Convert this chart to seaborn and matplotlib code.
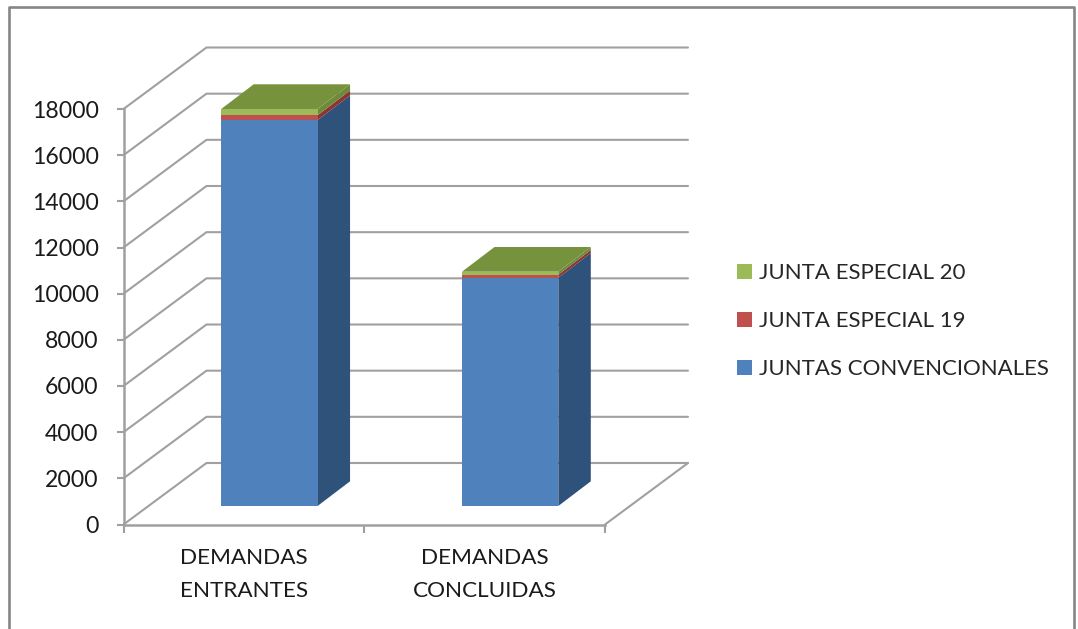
import matplotlib
matplotlib.use("Agg")
import matplotlib.pyplot as plt
from matplotlib.lines import Line2D
import pandas as pd
import seaborn as sns

categories = ["DEMANDAS\nENTRANTES", "DEMANDAS\nCONCLUIDAS"]
convencionales = [16720, 9890]
especial_19 = [205, 130]
especial_20 = [275, 130]
y_ticks = list(range(0, 18001, 2000))
series_names = ["JUNTAS CONVENCIONALES", "JUNTA ESPECIAL 19", "JUNTA ESPECIAL 20"]
front_colors = ["#4F81BD", "#C0504D", "#9BBB59"]
side_colors = ["#2F527B", "#8B3432", "#6F8A3B"]
top_color = "#76923C"
grid_color = "#A0A0A0"
W, H = 1078, 629

sns.set_theme(style="white")
plt.rcParams["font.family"] = ["Lato", "DejaVu Sans"]
FS_Y = 16.6
FS_X = 16.2
FS_LEG = 16

fig = plt.figure(figsize=(W / 100, H / 100), dpi=100, facecolor="white")
ax = fig.add_axes([123.5 / W, (H - 524.5) / H, 481.5 / W, 415.5 / H])

# 3-D projection offsets, in data units
WALL_DX, WALL_DY = 0.3447, 2664
BAR_SHIFT_X, BAR_SHIFT_Y = 0.106, 801
BAR_DX, BAR_DY = 0.135, 1070
BAR_W = 0.4

# back wall + diagonal gridlines
for v in y_ticks:
    ax.plot([-0.5, -0.5 + WALL_DX, 1.5 + WALL_DX], [v, v + WALL_DY, v + WALL_DY],
            color=grid_color, lw=1.5, clip_on=False, zorder=1, solid_joinstyle="miter")
ax.plot([1.5, 1.5 + WALL_DX], [0, WALL_DY], color=grid_color, lw=1.5, clip_on=False, zorder=1)

xs = [i + BAR_SHIFT_X for i in range(len(categories))]
bottoms = [BAR_SHIFT_Y] * len(categories)
for name, vals, fc, sc in zip(series_names, [convencionales, especial_19, especial_20],
                              front_colors, side_colors):
    df = pd.DataFrame({"x": xs, "y": vals})
    sns.barplot(data=df, x="x", y="y", native_scale=True, width=BAR_W, color=fc, saturation=1,
                bottom=bottoms, label=name, ax=ax, zorder=3, linewidth=0, errorbar=None)
    for x, b, v in zip(xs, bottoms, vals):
        r = x + BAR_W / 2
        ax.fill([r, r + BAR_DX, r + BAR_DX, r],
                [b, b + BAR_DY, b + v + BAR_DY, b + v],
                color=sc, lw=0, clip_on=False, zorder=2.5)
    bottoms = [b + v for b, v in zip(bottoms, vals)]

for x, t in zip(xs, bottoms):
    l, r = x - BAR_W / 2, x + BAR_W / 2
    ax.fill([l, r, r + BAR_DX, l + BAR_DX], [t, t, t + BAR_DY, t + BAR_DY],
            color=top_color, lw=0, clip_on=False, zorder=2.6)

for p in ax.patches:
    p.set_clip_on(False)

ax.set_xlim(-0.5, 1.5)
ax.set_ylim(0, 18000)
ax.set_xlabel("")
ax.set_ylabel("")
sns.despine(ax=ax)
for s in ("left", "bottom"):
    ax.spines[s].set_color(grid_color)
    ax.spines[s].set_linewidth(1.8)
ax.set_yticks(y_ticks)
ax.set_yticklabels([str(v) for v in y_ticks], fontsize=FS_Y, color="#1A1A1A")
ax.tick_params(axis="y", length=5.4, width=1.5, color=grid_color, left=True, pad=12.5)
ax.set_xticks(range(len(categories)))
ax.set_xticklabels(categories, fontsize=FS_X, color="#1A1A1A", linespacing=1.8)
ax.set_xticks([-0.5, 0.5, 1.5], minor=True)
ax.tick_params(axis="x", which="major", length=0, pad=17)
ax.tick_params(axis="x", which="minor", length=5.4, width=1.5, color=grid_color, bottom=True)

h, lab = ax.get_legend_handles_labels()
ax.legend(h[::-1], lab[::-1], loc="center left", frameon=False, fontsize=FS_LEG,
          bbox_to_anchor=(737 / W, (H - 321) / H), bbox_transform=fig.transFigure,
          handlelength=0.675, handleheight=0.675, handletextpad=0.315,
          labelspacing=1.26, borderpad=0, borderaxespad=0)

# chart frame
frame = dict(color="#868686", lw=1.9, transform=fig.transFigure)
fig.add_artist(Line2D([9 / W, 9 / W, 1074 / W, 1074 / W],
                      [0, (H - 7) / H, (H - 7) / H, 0], **frame))

fig.savefig("out.png", dpi=100, facecolor="white")
